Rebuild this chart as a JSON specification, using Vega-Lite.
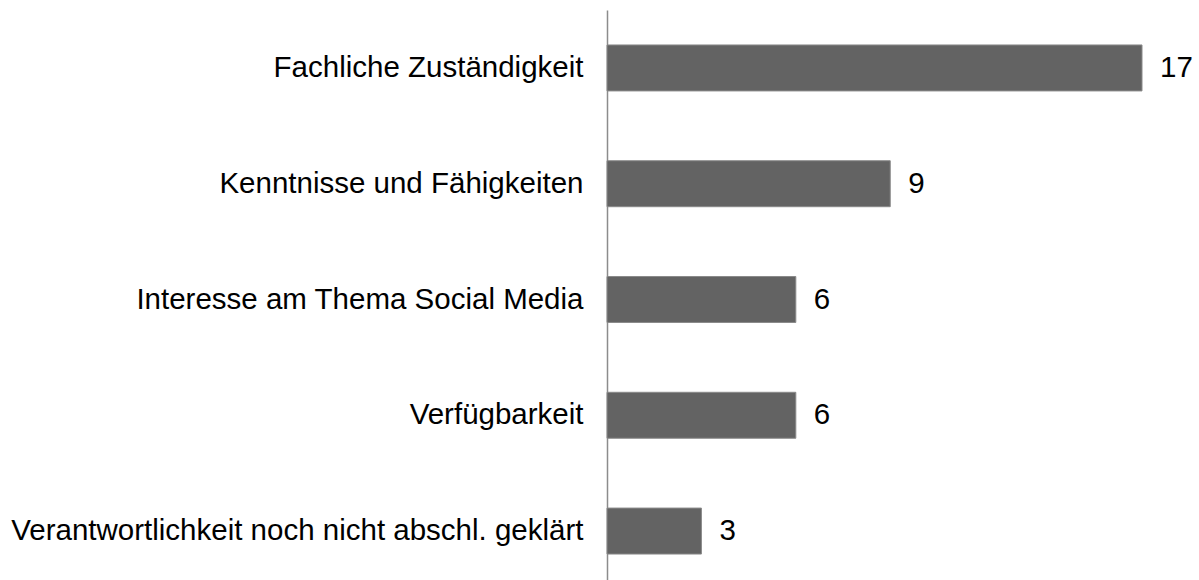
{
  "$schema": "https://vega.github.io/schema/vega-lite/v6.json",
  "autosize": "none",
  "padding": {"left": 607, "top": 10, "right": 57, "bottom": 0},
  "width": 535,
  "height": 579,
  "background": "white",
  "config": {"view": {"stroke": null}, "font": "Liberation Sans"},
  "data": {"values": [
    {"kategorie": "Fachliche Zuständigkeit", "anzahl": 17},
    {"kategorie": "Kenntnisse und Fähigkeiten", "anzahl": 9},
    {"kategorie": "Interesse am Thema Social Media", "anzahl": 6},
    {"kategorie": "Verfügbarkeit", "anzahl": 6},
    {"kategorie": "Verantwortlichkeit noch nicht abschl. geklärt", "anzahl": 3}
  ]},
  "encoding": {
    "y": {"field": "kategorie", "type": "nominal", "sort": null,
      "scale": {"paddingInner": 0.603, "paddingOuter": 0.302},
      "axis": {"title": null, "ticks": false, "domainColor": "#8c8c8c", "domainWidth": 1.5,
        "labelFont": "Liberation Sans", "labelFontSize": 29.5, "labelColor": "#000000",
        "labelPadding": 24, "labelLimit": 700}},
    "x": {"field": "anzahl", "type": "quantitative",
      "scale": {"domain": [0, 17], "nice": false, "zero": true},
      "axis": null}
  },
  "layer": [
    {"mark": {"type": "bar", "color": "#636363", "stroke": "#8a8a8a", "strokeWidth": 1}},
    {"mark": {"type": "text", "align": "left", "baseline": "middle", "dx": 18, "font": "Liberation Sans", "fontSize": 29.5, "color": "#000000"},
     "encoding": {"text": {"field": "anzahl", "type": "quantitative"}}}
  ]
}
